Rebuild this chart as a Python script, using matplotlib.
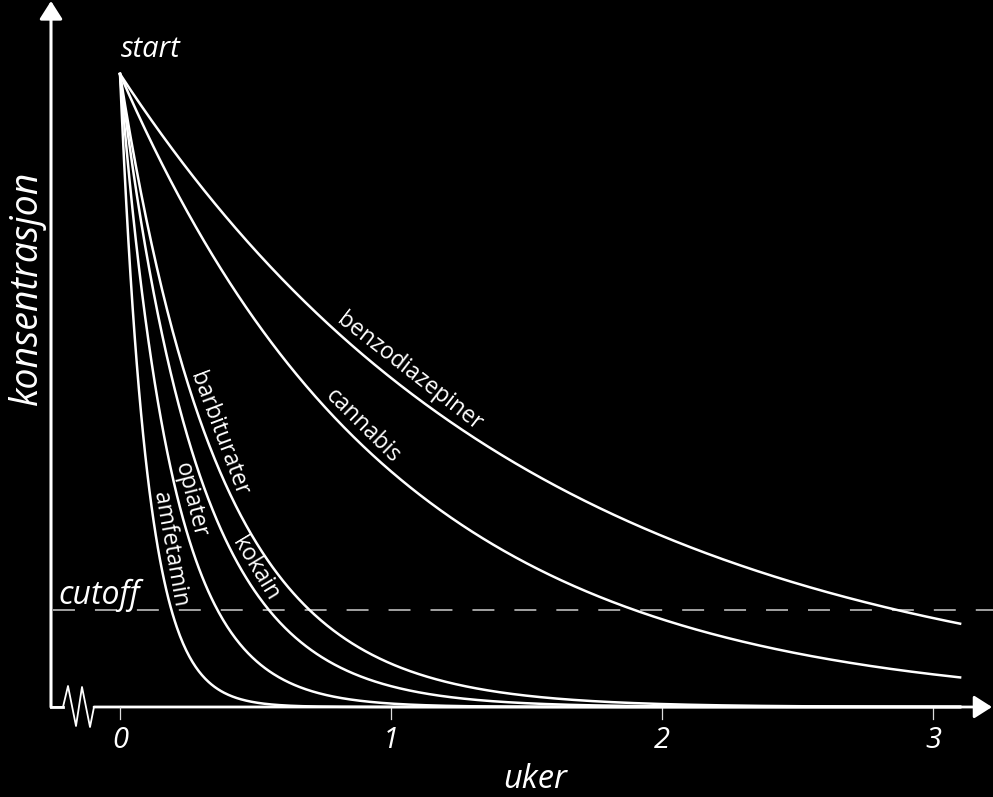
import numpy as np
import matplotlib.pyplot as plt
from matplotlib.patches import FancyArrowPatch

# =========================
# Data
# =========================
drugs = ["amfetamin", "opiater", "kokain", "barbiturater", "cannabis", "benzodiazepiner"]
weeks_to_cutoff = [0.19, 0.36, 0.55, 0.70, 1.90, 2.87]   # where each curve crosses the cutoff
cutoff = 0.153          # relative to the start level
start_level = 1.0
t_end = 3.1             # curves stop here (weeks)
week_ticks = [0, 1, 2, 3]

# where along each curve the name sits (weeks) and how far off the line (px)
label_at = [0.142, 0.217, 0.46, 0.32, 0.86, 1.03]
label_gap = [12, 12, 13, 13, 14, 16]

# =========================
# Style
# =========================
plt.rcParams["font.family"] = ["Open Sans", "DejaVu Sans"]
plt.rcParams["lines.scale_dashes"] = False
fg = "white"

fig = plt.figure(figsize=(9.93, 7.97), dpi=100, facecolor="black")
ax = fig.add_axes([0, 0, 1, 1])
ax.set_facecolor("black")
ax.axis("off")

# pixel scale of the reference: 271 px per week, 633 px per unit concentration
px_x, px_y = 271.0, 633.0
ax.set_xlim(-120 / px_x, 873 / px_x)
ax.set_ylim(-90 / px_y, 707 / px_y)

x_left = -69 / px_x     # where the y axis stands

# =========================
# Curves
# =========================
t = np.linspace(0, t_end, 800)
rates = [np.log(start_level / cutoff) / w for w in weeks_to_cutoff]
for k in rates:
    ax.plot(t, start_level * np.exp(-k * t), color=fg, lw=1.8, zorder=3)

# labels along the curves
to_pt = 72.0 / fig.dpi
for name, k, xa, gap in zip(drugs, rates, label_at, label_gap):
    ya = start_level * np.exp(-k * xa)
    p1 = ax.transData.transform((xa, ya))
    p2 = ax.transData.transform((xa + 1e-3, start_level * np.exp(-k * (xa + 1e-3))))
    ang = np.arctan2(p2[1] - p1[1], p2[0] - p1[0])
    nx, ny = -np.sin(ang), np.cos(ang)
    ax.annotate(name, xy=(xa, ya), xytext=(nx * gap * to_pt, ny * gap * to_pt),
                textcoords="offset points", rotation=np.degrees(ang),
                rotation_mode="anchor", ha="center", va="center",
                color=fg, fontsize=16.5, zorder=4)

# =========================
# Cutoff line
# =========================
ax.plot([-67 / px_x, 3.3], [cutoff, cutoff], color="#bdbdbd", lw=1.2,
        dashes=(15.8, 14.4), zorder=2)
ax.text(-62 / px_x, cutoff + 6 / px_y, "cutoff", color=fg, fontsize=23,
        style="italic", ha="left", va="baseline")

# =========================
# Axes with arrows and break
# =========================
head = "-|>,head_length=1.1,head_width=0.7"
ax.add_patch(FancyArrowPatch((x_left, 0), (x_left, 706 / px_y), arrowstyle=head,
                             mutation_scale=10, color=fg, lw=2.2, shrinkA=0, shrinkB=0))

brk_x = [x_left, -57, -52, -44, -38, -30, -26]
brk_y = [0, 0, 21, -19, 20, -20, 0]
ax.plot([x_left] + [b / px_x for b in brk_x[1:]], [b / px_y for b in brk_y],
        color=fg, lw=1.3, zorder=3)
ax.plot([x_left, brk_x[1] / px_x], [0, 0], color=fg, lw=2.0)
ax.add_patch(FancyArrowPatch((brk_x[-1] / px_x, 0), (872 / px_x, 0), arrowstyle=head,
                             mutation_scale=10, color=fg, lw=2.0, shrinkA=0, shrinkB=0))

for w in week_ticks:
    ax.plot([w, w], [0, -12 / px_y], color="#dddddd", lw=0.9)
    ax.text(w, -33 / px_y, str(w), color=fg, fontsize=21, style="italic",
            ha="center", va="center")

ax.text(0.114, 1.027, "start", color=fg, fontsize=21, style="italic",
        ha="center", va="baseline")
ax.text(1.531, -81 / px_y, "uker", color=fg, fontsize=23.5, style="italic",
        ha="center", va="baseline")
ax.text(-93 / px_x, 0.662, "konsentrasjon", color=fg, fontsize=27, style="italic",
        rotation=90, ha="center", va="center")

fig.savefig("out.png", dpi=100, facecolor="black")
